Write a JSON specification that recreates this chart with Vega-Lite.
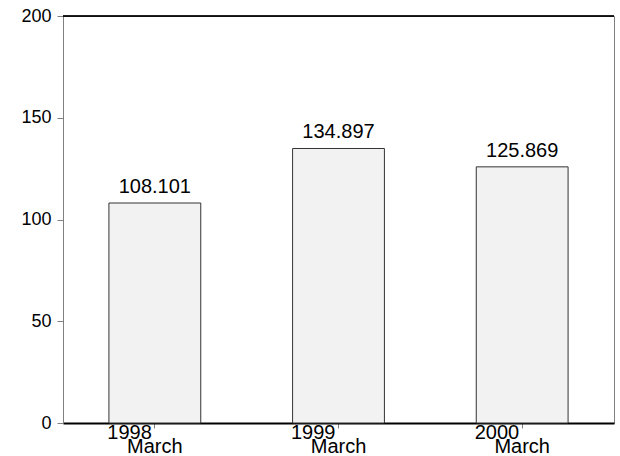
{
  "$schema": "https://vega.github.io/schema/vega-lite/v6.json",
  "width": 551,
  "height": 407,
  "autosize": {"type": "none"},
  "padding": {"left": 63, "top": 16, "right": 6, "bottom": 33},
  "background": "white",
  "config": {
    "font": "Liberation Sans",
    "view": {"stroke": "#808080", "strokeWidth": 1}
  },
  "data": {
    "values": [
      {"year": "1998", "month": "March", "value": 108.101},
      {"year": "1999", "month": "March", "value": 134.897},
      {"year": "2000", "month": "March", "value": 125.869}
    ]
  },
  "layer": [
    {
      "mark": {"type": "bar", "fill": "#f2f2f2", "stroke": "#333333", "strokeWidth": 1},
      "encoding": {
        "x": {
          "field": "year",
          "type": "nominal",
          "sort": null,
          "scale": {"paddingInner": 0.5, "paddingOuter": 0.25},
          "axis": {
            "title": null,
            "labelExpr": "'March'",
            "labelAngle": 0,
            "labelFontSize": 20,
            "labelColor": "black",
            "labelPadding": 8,
            "domainColor": "black",
            "domainWidth": 2,
            "tickColor": "#808080",
            "tickSize": 5
          }
        },
        "y": {
          "field": "value",
          "type": "quantitative",
          "scale": {"domain": [0, 200], "nice": false},
          "axis": {
            "title": null,
            "values": [0, 50, 100, 150, 200],
            "grid": false,
            "labelFontSize": 18,
            "labelColor": "black",
            "labelPadding": 6,
            "domainColor": "#808080",
            "tickColor": "#808080",
            "tickSize": 6
          }
        }
      }
    },
    {
      "mark": {"type": "text", "fontSize": 20, "baseline": "alphabetic", "dy": -10, "color": "black"},
      "encoding": {
        "x": {"field": "year", "type": "nominal", "sort": null},
        "y": {"field": "value", "type": "quantitative"},
        "text": {"field": "value", "type": "quantitative", "format": ".3f"}
      }
    },
    {
      "mark": {"type": "text", "fontSize": 20, "baseline": "alphabetic", "align": "right", "dx": -3, "dy": 16, "color": "black"},
      "encoding": {
        "x": {"field": "year", "type": "nominal", "sort": null},
        "y": {"datum": 0},
        "text": {"field": "year"}
      }
    },
    {
      "mark": {"type": "rule", "color": "black", "strokeWidth": 1},
      "encoding": {"y": {"datum": 200}}
    }
  ]
}
